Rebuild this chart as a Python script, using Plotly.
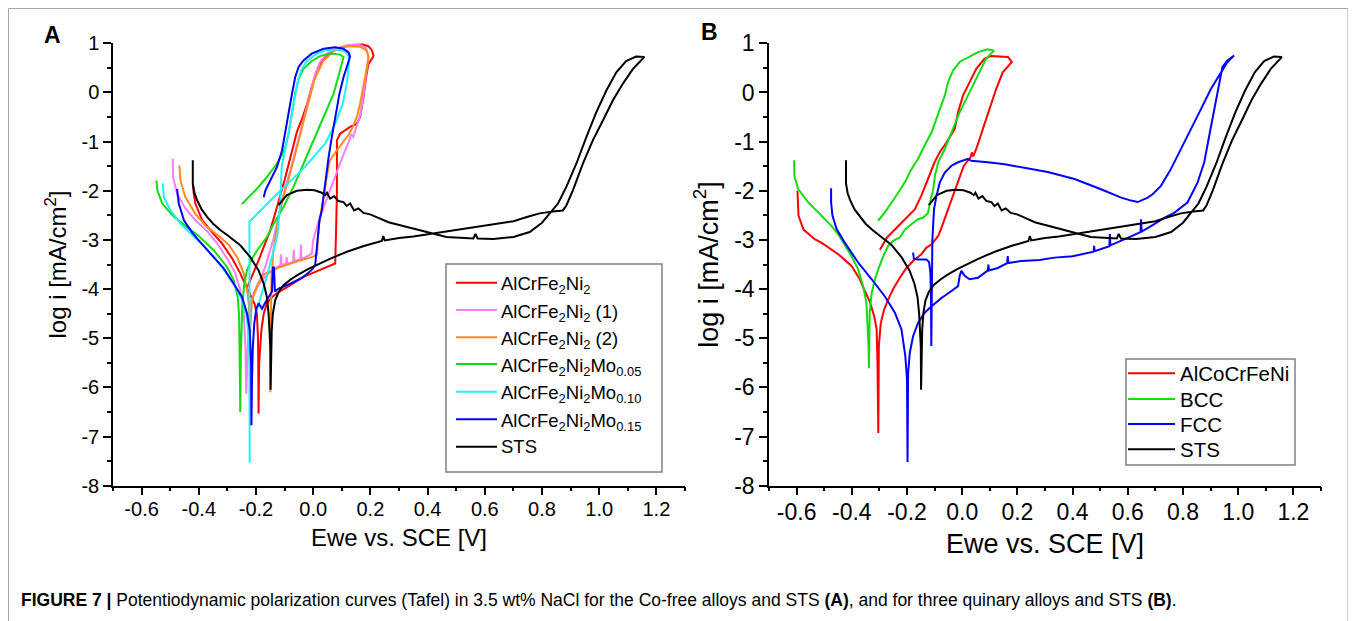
import plotly.graph_objects as go

# ---------------- shared STS curve (same measurement in both panels) ----------------
STS_E = [-0.421, -0.421, -0.415, -0.406, -0.39, -0.371, -0.35, -0.325, -0.301, -0.278, -0.255, -0.22,
         -0.191, -0.173, -0.162, -0.156, -0.153, -0.15, -0.149, -0.147, -0.145, -0.141, -0.133, -0.121,
         -0.104, -0.08, -0.057, -0.02, 0.013, 0.06, 0.118, 0.18, 0.24, 0.245, 0.25, 0.30, 0.35, 0.42,
         0.50, 0.583, 0.65, 0.70, 0.75, 0.792, 0.838, 0.873, 0.885, 0.908, 0.943, 0.978, 1.013, 1.048,
         1.083, 1.118, 1.158, 1.129, 1.094, 1.06, 1.025, 0.99, 0.955, 0.92, 0.885, 0.856, 0.827, 0.80,
         0.757, 0.70, 0.63, 0.575, 0.567, 0.56, 0.466, 0.42, 0.327, 0.30, 0.263, 0.228, 0.199, 0.176,
         0.158, 0.143, 0.129, 0.117, 0.106, 0.088, 0.073, 0.059, 0.048, 0.042, 0.030, 0.005, -0.022,
         -0.057, -0.092, -0.121]
STS_LOGI = [-1.38, -1.85, -2.05, -2.19, -2.38, -2.53, -2.67, -2.80, -2.90, -3.0, -3.11, -3.35,
            -3.62, -3.89, -4.16, -4.50, -4.84, -5.17, -6.05, -5.3, -4.84, -4.50, -4.23, -4.06,
            -3.92, -3.81, -3.72, -3.6, -3.51, -3.38, -3.24, -3.12, -3.02, -2.92, -3.01, -2.96, -2.93, -2.87,
            -2.79, -2.73, -2.67, -2.62, -2.53, -2.46, -2.42, -2.40, -2.30, -1.99, -1.45, -0.97, -0.57, -0.16,
            0.18, 0.48, 0.72, 0.73, 0.64, 0.41, 0.04, -0.40, -0.91, -1.45, -1.92, -2.26, -2.46, -2.65,
            -2.84, -2.94, -2.98, -2.97, -2.88, -2.97, -2.94, -2.87, -2.74, -2.70, -2.64, -2.55, -2.48, -2.45,
            -2.36, -2.40, -2.26, -2.31, -2.23, -2.21, -2.11, -2.16, -2.04, -2.09, -2.04, -1.99, -1.98,
            -2.0, -2.09, -2.29]

# ---------------- Panel A: Co-free alloys ----------------
A_RED_E = [-0.421, -0.418, -0.412, -0.40, -0.388, -0.354, -0.319, -0.284, -0.255, -0.238, -0.228, -0.218,
           -0.205, -0.197, -0.193, -0.192, -0.191, -0.189, -0.181, -0.173, -0.162, -0.144, -0.121, -0.08,
           -0.034, 0.024, 0.077, 0.08, 0.083, 0.083, 0.094, 0.129, 0.152, 0.164, 0.176, 0.187, 0.193,
           0.205, 0.211, 0.205, 0.193, 0.17, 0.129, 0.094, 0.059, 0.03, 0.013, -0.005, -0.022, -0.04,
           -0.057, -0.07, -0.085, -0.10, -0.12, -0.15, -0.19, -0.23]
A_RED_LOGI = [-1.86, -2.05, -2.26, -2.45, -2.60, -2.84, -3.07, -3.37, -3.68, -3.90, -4.02, -4.12,
              -4.3, -4.50, -5.0, -5.5, -6.53, -5.51, -4.83, -4.50, -4.29, -4.16, -4.06, -3.92,
              -3.75, -3.61, -3.48, -2.8, -2.0, -0.97, -0.84, -0.70, -0.64, -0.50, -0.09, 0.38, 0.58,
              0.68, 0.75, 0.86, 0.94, 0.98, 0.96, 0.91, 0.82, 0.65, 0.45, 0.11, -0.25, -0.55,
              -0.80, -1.1, -1.45, -1.78, -2.2, -2.8, -3.4, -3.96]

A_PINK_E = [-0.491, -0.49, -0.476, -0.447, -0.412, -0.371, -0.336, -0.301, -0.272, -0.255, -0.243, -0.237,
            -0.234, -0.23, -0.226, -0.222, -0.208, -0.19, -0.16, -0.127, -0.115, -0.113, -0.111, -0.095,
            -0.093, -0.091, -0.08, -0.07, -0.068, -0.066, -0.045, -0.043, -0.041, -0.02, -0.005, 0.0,
            0.005, 0.01, 0.02, 0.045, 0.07, 0.09, 0.11, 0.125, 0.132, 0.14, 0.15, 0.165, 0.175, 0.183,
            0.19, 0.193, 0.185, 0.165, 0.152, 0.117, 0.083, 0.048, 0.024, 0.007, -0.01, -0.028, -0.045,
            -0.063, -0.08, -0.10, -0.12, -0.14, -0.165, -0.19, -0.21]
A_PINK_LOGI = [-1.35, -1.72, -2.06, -2.36, -2.60, -2.82, -3.07, -3.38, -3.68, -4.02, -4.50, -5.17,
               -6.13, -5.2, -4.7, -4.36, -4.09, -3.90, -3.7, -3.56, -3.52, -3.3, -3.5, -3.49,
               -3.35, -3.48, -3.47, -3.44, -3.2, -3.43, -3.40, -3.1, -3.39, -3.33, -3.28, -3.0,
               -2.9, -2.75, -2.6, -2.2, -1.8, -1.5, -1.2, -1.0, -0.85, -0.9, -0.7, -0.45, -0.1, 0.3,
               0.6, 0.75, 0.9, 0.96, 0.98, 0.96, 0.89, 0.79, 0.62, 0.38, -0.02, -0.43, -0.84,
               -1.25, -1.59, -2.0, -2.5, -3.0, -3.5, -3.9, -4.15]

A_ORANGE_E = [-0.468, -0.464, -0.447, -0.412, -0.371, -0.33, -0.295, -0.266, -0.243, -0.231, -0.225, -0.223,
              -0.222, -0.22, -0.215, -0.205, -0.19, -0.173, -0.15, -0.115, -0.057, 0.0, 0.013, 0.016,
              0.02, 0.028, 0.035, 0.045, 0.058, 0.08, 0.103, 0.125, 0.141, 0.155, 0.164, 0.179, 0.194,
              0.187, 0.164, 0.119, 0.073, 0.035, 0.005, -0.018, -0.043, -0.063, -0.086, -0.108, -0.124,
              -0.139, -0.146, -0.148, -0.149, -0.15]
A_ORANGE_LOGI = [-1.48, -1.79, -2.13, -2.47, -2.74, -2.92, -3.10, -3.35, -3.68, -4.02, -4.3, -4.9,
                 -5.4, -4.8, -4.3, -4.05, -3.85, -3.70, -3.64, -3.55, -3.44, -3.34, -3.30, -3.0,
                 -2.7, -2.4, -2.19, -1.8, -1.39, -1.2, -1.03, -0.85, -0.67, -0.45, -0.23, 0.27, 0.71,
                 0.85, 0.93, 0.94, 0.85, 0.64, 0.27, -0.23, -0.77, -1.25, -1.76, -2.19, -2.63,
                 -3.21, -3.79, -4.3, -5.0, -6.1]

A_GREEN_E = [-0.548, -0.545, -0.528, -0.487, -0.441, -0.40, -0.348, -0.301, -0.278, -0.264, -0.259, -0.257,
             -0.255, -0.253, -0.251, -0.248, -0.241, -0.231, -0.214, -0.191, -0.162, -0.138, -0.104, -0.069,
             -0.034, 0.001, 0.036, 0.071, 0.094, 0.106, 0.094, 0.059, 0.024, -0.005, -0.034, -0.051, -0.063,
             -0.074, -0.086, -0.101, -0.127, -0.162, -0.197, -0.231, -0.249]
A_GREEN_LOGI = [-1.79, -1.99, -2.26, -2.53, -2.74, -2.92, -3.21, -3.55, -3.82, -4.16, -4.56, -5.17,
                -6.50, -5.3, -4.84, -4.36, -3.88, -3.61, -3.38, -3.17, -2.94, -2.67, -2.33, -1.92,
                -1.45, -0.97, -0.50, -0.03, 0.45, 0.72, 0.77, 0.79, 0.74, 0.64, 0.48, 0.28, -0.02,
                -0.43, -0.84, -1.18, -1.45, -1.72, -1.96, -2.16, -2.27]

A_CYAN_E = [-0.526, -0.522, -0.499, -0.464, -0.429, -0.39, -0.35, -0.31, -0.275, -0.25, -0.235, -0.226,
            -0.223, -0.222, -0.223, -0.223, -0.124, -0.033, 0.043, 0.08, 0.103, 0.118, 0.126, 0.123,
            0.11, 0.08, 0.045, 0.01, -0.025, -0.042, -0.055, -0.065, -0.075, -0.087, -0.10, -0.11,
            -0.115, -0.125, -0.16, -0.197]
A_CYAN_LOGI = [-1.85, -2.13, -2.40, -2.67, -2.87, -3.08, -3.33, -3.62, -3.92, -4.2, -4.5, -4.9,
               -5.5, -7.53, -5.0, -2.63, -2.05, -1.54, -1.03, -0.6, -0.23, 0.2, 0.64, 0.75,
               0.84, 0.88, 0.86, 0.78, 0.62, 0.45, 0.2, -0.1, -0.45, -0.85, -1.2, -1.5,
               -2.2, -2.9, -3.7, -4.43]

A_BLUE_E = [-0.476, -0.47, -0.452, -0.423, -0.40, -0.359, -0.313, -0.278, -0.249, -0.231, -0.222, -0.217,
            -0.216, -0.214, -0.211, -0.206, -0.199, -0.191, -0.179, -0.167, -0.156, -0.144, -0.141, -0.137,
            -0.134, -0.121, -0.08, -0.034, -0.005, 0.007, 0.013, 0.019, 0.022, 0.03, 0.042, 0.054, 0.065,
            0.077, 0.092, 0.106, 0.12, 0.129, 0.123, 0.106, 0.077, 0.036, -0.005, -0.034, -0.051, -0.063,
            -0.074, -0.086, -0.098, -0.109, -0.127, -0.15, -0.167, -0.173]
A_BLUE_LOGI = [-1.96, -2.26, -2.6, -2.85, -3.01, -3.28, -3.58, -3.89, -4.16, -4.50, -4.83, -5.51,
               -6.77, -5.85, -5.17, -4.70, -4.40, -4.29, -4.40, -4.27, -4.16, -4.05, -3.56, -3.56,
               -4.05, -3.99, -3.89, -3.75, -3.61, -3.51, -3.14, -2.80, -2.6, -2.40, -1.79, -1.31, -0.91,
               -0.50, -0.02, 0.31, 0.58, 0.73, 0.82, 0.89, 0.92, 0.89, 0.79, 0.65, 0.52, 0.31,
               -0.02, -0.43, -0.84, -1.18, -1.52, -1.79, -1.99, -2.13]

# ---------------- Panel B: quinary alloys ----------------
B_RED_E = [-0.597, -0.593, -0.575, -0.533, -0.509, -0.449, -0.401, -0.371, -0.353, -0.335, -0.319, -0.31,
           -0.307, -0.304, -0.302, -0.295, -0.283, -0.268, -0.25, -0.226, -0.202, -0.178, -0.148, -0.13,
           -0.111, -0.087, -0.075, -0.05, -0.03, 0.005, 0.03, 0.035, 0.04, 0.051, 0.075, 0.099, 0.123,
           0.147, 0.172, 0.18, 0.166, 0.147, 0.105, 0.081, 0.051, 0.027, 0.003, -0.015, -0.027, -0.057,
           -0.082, -0.1, -0.124, -0.148, -0.172, -0.208, -0.244, -0.274, -0.298]
B_RED_LOGI = [-2.0, -2.51, -2.79, -2.99, -3.06, -3.29, -3.53, -3.80, -4.04, -4.25, -4.55, -4.82,
              -5.50, -6.93, -5.16, -4.69, -4.42, -4.21, -4.0, -3.77, -3.57, -3.43, -3.29, -3.16,
              -3.09, -2.92, -2.75, -2.35, -2.05, -1.5, -1.32, -1.22, -1.3, -1.15, -0.74, -0.33, 0.07,
              0.41, 0.58, 0.62, 0.72, 0.73, 0.74, 0.69, 0.48, 0.21, -0.06, -0.40, -0.74, -1.02,
              -1.22, -1.42, -1.76, -2.10, -2.38, -2.58, -2.79, -2.96, -3.2]

B_GREEN_E = [-0.609, -0.608, -0.594, -0.557, -0.509, -0.473, -0.45, -0.431, -0.401, -0.377, -0.359, -0.347,
             -0.341, -0.339, -0.338, -0.337, -0.335, -0.328, -0.316, -0.304, -0.286, -0.268, -0.25, -0.226,
             -0.208, -0.184, -0.16, -0.142, -0.124, -0.115, -0.105, -0.099, -0.087, -0.063, -0.033, -0.009,
             0.021, 0.045, 0.069, 0.087, 0.115, 0.093, 0.057, 0.021, -0.009, -0.033, -0.051, -0.063,
             -0.081, -0.099, -0.111, -0.136, -0.16, -0.184, -0.208, -0.232, -0.256, -0.28, -0.305]
B_GREEN_LOGI = [-1.38, -1.70, -1.97, -2.24, -2.51, -2.72, -2.88, -3.06, -3.33, -3.60, -3.94, -4.28,
                -4.82, -5.2, -5.61, -5.0, -4.48, -4.08, -3.80, -3.60, -3.33, -3.12, -3.02, -2.95,
                -2.79, -2.68, -2.58, -2.55, -2.45, -2.2, -1.97, -1.70, -1.42, -1.15, -0.74, -0.40,
                -0.06, 0.21, 0.48, 0.69, 0.85, 0.88, 0.82, 0.72, 0.62, 0.45, 0.21, -0.06,
                -0.33, -0.61, -0.81, -1.08, -1.35, -1.56, -1.83, -2.04, -2.24, -2.44, -2.61]

B_BLUE_E = [-0.475, -0.475, -0.47, -0.455, -0.425, -0.377, -0.328, -0.28, -0.244, -0.22, -0.206, -0.2,
            -0.198, -0.196, -0.19, -0.178, -0.16, -0.136, -0.111, -0.075, -0.039, -0.015, -0.009, -0.003,
            0.009, 0.027, 0.057, 0.093, 0.095, 0.097, 0.129, 0.163, 0.165, 0.167, 0.214, 0.28, 0.334,
            0.40, 0.476, 0.478, 0.48, 0.533, 0.535, 0.537, 0.587, 0.646, 0.648, 0.65, 0.684, 0.732,
            0.768, 0.816, 0.853, 0.877, 0.895, 0.913, 0.931, 0.943, 0.961, 0.985, 0.961, 0.937, 0.901,
            0.865, 0.829, 0.792, 0.756, 0.72, 0.69, 0.672, 0.636, 0.612, 0.576, 0.503, 0.407, 0.31,
            0.226, 0.154, 0.093, 0.033, 0.021, -0.015, -0.039, -0.063, -0.081, -0.093, -0.102, -0.105,
            -0.108, -0.11, -0.112, -0.113, -0.115, -0.12, -0.13, -0.16, -0.175, -0.178]
B_BLUE_LOGI = [-1.95, -2.24, -2.51, -2.78, -3.06, -3.46, -3.80, -4.15, -4.48, -4.82, -5.37, -5.84,
               -7.52, -5.71, -5.30, -4.96, -4.69, -4.48, -4.35, -4.18, -4.04, -3.94, -3.73, -3.63,
               -3.73, -3.80, -3.77, -3.62, -3.50, -3.62, -3.57, -3.47, -3.33, -3.47, -3.43, -3.41, -3.36,
               -3.33, -3.24, -3.12, -3.23, -3.13, -2.88, -3.11, -2.99, -2.84, -2.58, -2.83, -2.72, -2.55,
               -2.45, -2.24, -1.83, -1.42, -0.88, -0.34, 0.21, 0.52, 0.65, 0.75, 0.62, 0.41, 0.07,
               -0.34, -0.74, -1.15, -1.56, -1.90, -2.07, -2.14, -2.23, -2.20, -2.14, -1.97, -1.76, -1.62,
               -1.53, -1.46, -1.42, -1.39, -1.35, -1.42, -1.49, -1.63, -1.83, -2.10, -2.37, -2.78,
               -2.99, -4.0, -5.16, -4.2, -3.67, -3.45, -3.40, -3.40, -3.38, -3.26]

# ---------------- names, colours, ticks ----------------
A_NAMES = ["AlCrFe<sub>2</sub>Ni<sub>2</sub>", "AlCrFe<sub>2</sub>Ni<sub>2</sub> (1)",
           "AlCrFe<sub>2</sub>Ni<sub>2</sub> (2)", "AlCrFe<sub>2</sub>Ni<sub>2</sub>Mo<sub>0.05</sub>",
           "AlCrFe<sub>2</sub>Ni<sub>2</sub>Mo<sub>0.10</sub>", "AlCrFe<sub>2</sub>Ni<sub>2</sub>Mo<sub>0.15</sub>",
           "STS"]
A_COLORS = ["#ff0000", "#f77ff7", "#ff8a1f", "#11dd11", "#22f0ff", "#0000ff", "#000000"]
B_NAMES = ["AlCoCrFeNi", "BCC", "FCC", "STS"]
B_COLORS = ["#ff0000", "#11dd11", "#0000ff", "#000000"]

X_TICKS = [-0.6, -0.4, -0.2, 0.0, 0.2, 0.4, 0.6, 0.8, 1.0, 1.2]
X_TICKTEXT = ["-0.6", "-0.4", "-0.2", "0.0", "0.2", "0.4", "0.6", "0.8", "1.0", "1.2"]
Y_TICKS = [1, 0, -1, -2, -3, -4, -5, -6, -7, -8]
Y_TICKTEXT = ["1", "0", "-1", "-2", "-3", "-4", "-5", "-6", "-7", "-8"]

# The page places the figure 8 px in from the top-left corner; the figure is sized so
# that it fills the rest of the 1356x621 window, and all positions are given in window px.
OFF = 8
W, H = 1356 - OFF, 621 - OFF
FONT = "Liberation Sans, Arial, Helvetica, sans-serif"


def fx(px):
    return (px - OFF) / W


def fy(py):
    return 1 - (py - OFF) / H


fig = go.Figure()

A_SERIES = [(A_RED_E, A_RED_LOGI), (A_PINK_E, A_PINK_LOGI), (A_ORANGE_E, A_ORANGE_LOGI),
            (A_GREEN_E, A_GREEN_LOGI), (A_CYAN_E, A_CYAN_LOGI), (A_BLUE_E, A_BLUE_LOGI),
            (STS_E, STS_LOGI)]
for (e, li), name, col in zip(A_SERIES, A_NAMES, A_COLORS):
    fig.add_trace(go.Scatter(x=e, y=li, mode="lines", name=name, line=dict(color=col, width=2),
                             xaxis="x", yaxis="y", showlegend=False))

B_SERIES = [(B_RED_E, B_RED_LOGI), (B_GREEN_E, B_GREEN_LOGI), (B_BLUE_E, B_BLUE_LOGI),
            (STS_E, STS_LOGI)]
for (e, li), name, col in zip(B_SERIES, B_NAMES, B_COLORS):
    fig.add_trace(go.Scatter(x=e, y=li, mode="lines", name=name, line=dict(color=col, width=2),
                             xaxis="x2", yaxis="y2", showlegend=False))


def xaxis(domain, anchor, tick_size, title_size):
    return dict(domain=domain, anchor=anchor, range=[-0.7, 1.3], tickmode="array",
                tickvals=X_TICKS, ticktext=X_TICKTEXT, showline=True, linecolor="black",
                linewidth=1.5, ticks="outside", ticklen=8, tickwidth=1.5, tickcolor="black",
                showgrid=False, zeroline=False, automargin=False, ticklabelstandoff=-3,
                tickfont=dict(size=tick_size, color="black"),
                minor=dict(tickmode="linear", tick0=0, dtick=0.1, ticks="outside", ticklen=4,
                           tickwidth=1.5, tickcolor="black", showgrid=False),
                title=dict(text="Ewe vs. SCE [V]", font=dict(size=title_size, color="black"),
                           standoff=10))


def yaxis(anchor, tick_size, title_size):
    return dict(domain=[fy(485.7), fy(43.3)], anchor=anchor, range=[-8, 1],
                tickmode="array", tickvals=Y_TICKS, ticktext=Y_TICKTEXT, showline=True,
                linecolor="black", linewidth=1.5, ticks="outside", ticklen=8, tickwidth=1.5,
                tickcolor="black", showgrid=False, zeroline=False, automargin=False,
                tickfont=dict(size=tick_size, color="black"),
                minor=dict(tickmode="linear", tick0=0, dtick=0.5, ticks="outside", ticklen=4,
                           tickwidth=1.5, tickcolor="black", showgrid=False),
                title=dict(text="log i [mA/cm<sup>2</sup>]", font=dict(size=title_size, color="black"),
                           standoff=8))


# ---------------- legends drawn as boxes of sample lines + text ----------------
shapes = [dict(type="rect", xref="paper", yref="paper", x0=0.5 / W, x1=fx(1348),
               y0=-0.2, y1=1 - 0.5 / H, line=dict(color="#a8a8a8", width=1))]
annotations = []


def add_legend(names, colors, box, line_x, text_x, rows, size):
    x0, y0, x1, y1 = box
    shapes.append(dict(type="rect", xref="paper", yref="paper", x0=fx(x0), x1=fx(x1),
                       y0=fy(y1), y1=fy(y0), line=dict(color="#808080", width=1.5),
                       fillcolor="white", layer="above"))
    for name, col, yy in zip(names, colors, rows):
        shapes.append(dict(type="line", xref="paper", yref="paper", x0=fx(line_x[0]),
                           x1=fx(line_x[1]), y0=fy(yy), y1=fy(yy),
                           line=dict(color=col, width=2), layer="above"))
        off = 2.5 if "<sub>" in name else 0
        annotations.append(dict(text=name, x=fx(text_x), y=fy(yy + off), xref="paper",
                                yref="paper", showarrow=False, xanchor="left", yanchor="middle",
                                font=dict(size=size, color="black")))


add_legend(A_NAMES, A_COLORS, (446, 264, 662, 472), (456, 497), 499,
           [282.7, 310.0, 337.3, 364.0, 391.7, 419.3, 446.7], 18.5)
add_legend(B_NAMES, B_COLORS, (1126, 359, 1295, 465), (1128, 1175), 1178,
           [373.3, 399.0, 424.0, 449.3], 20.5)

annotations += [
    dict(text="<b>A</b>", x=fx(52), y=fy(35), xref="paper", yref="paper", showarrow=False,
         font=dict(size=23, color="black"), xanchor="center", yanchor="middle"),
    dict(text="<b>B</b>", x=fx(709), y=fy(32), xref="paper", yref="paper", showarrow=False,
         font=dict(size=23, color="black"), xanchor="center", yanchor="middle"),
    dict(text="<b>FIGURE 7 |</b> Potentiodynamic polarization curves (Tafel) in 3.5 wt% NaCl for the "
              "Co-free alloys and STS <b>(A)</b>, and for three quinary alloys and STS <b>(B)</b>.",
         x=fx(19), y=fy(600), xref="paper", yref="paper", showarrow=False,
         xanchor="left", yanchor="middle", font=dict(size=17.5, color="black")),
]

fig.update_layout(
    width=W, height=H, margin=dict(l=0, r=0, t=0, b=0, autoexpand=False),
    paper_bgcolor="white", plot_bgcolor="white", showlegend=False,
    font=dict(family=FONT, color="black"),
    xaxis=xaxis([fx(113), fx(685)], "y", 20, 24),
    yaxis=yaxis("x", 20, 24),
    xaxis2=xaxis([fx(769), fx(1321)], "y2", 23, 27),
    yaxis2=yaxis("x2", 23, 27),
    shapes=shapes,
    annotations=annotations,
)

fig.write_html("out.html")
